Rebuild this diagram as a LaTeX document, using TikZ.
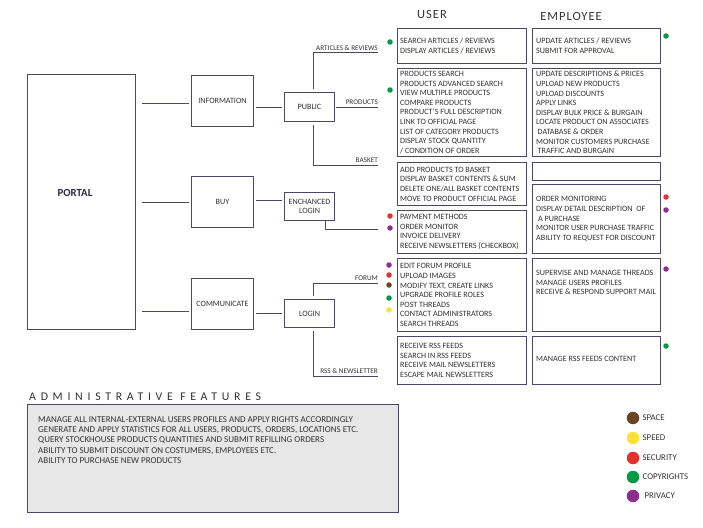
\documentclass[tikz,border=0pt]{standalone}
\usepackage{fontspec}
\setmainfont{Carlito}
\usetikzlibrary{calc}
\definecolor{lc}{HTML}{4A4866}
\definecolor{tc}{HTML}{333333}
\definecolor{pc}{HTML}{2A2944}
\definecolor{admfill}{HTML}{E7E7E7}
\definecolor{cgreen}{HTML}{009A44}
\definecolor{cred}{HTML}{E4312B}
\definecolor{cbrown}{HTML}{6D4522}
\definecolor{cyellow}{HTML}{FFE033}
\definecolor{cpurple}{HTML}{8E2E8E}
\begin{document}
\begin{tikzpicture}[x=1pt,y=-1pt,
  box/.style={draw=lc, line width=1pt, inner sep=0, anchor=north west, text=tc, font=\fontsize{8.1}{9.3}\selectfont, align=center},
  conn/.style={draw=lc, line width=1pt},
  lbl/.style={font=\fontsize{7.2}{8}\selectfont, text=tc, inner sep=0},
  txt/.style={font=\fontsize{8.1}{9.6}\selectfont, text=tc, align=left, inner sep=0, anchor=west},
  hdr/.style={font=\fontsize{12.5}{13}\addfontfeature{LetterSpace=8}\selectfont, text=tc, inner sep=0},
  dot/.style={circle, inner sep=0, minimum size=5.5pt},
  bigdot/.style={circle, inner sep=0, minimum size=12.5pt},
  leg/.style={font=\fontsize{8.8}{9}\selectfont, text=tc, inner sep=0, anchor=west}]
\useasboundingbox[fill=white] (0,0) rectangle (703,527);

% left column boxes
\node[box, minimum width=108, minimum height=255] (portal) at (27,74) {};
\node[font=\fontsize{10.8}{11}\bfseries\selectfont, text=pc, inner sep=0] (portalT) at (75,193) {PORTAL};
\node[box, minimum width=62, minimum height=51] (information) at (191,75) {INFORMATION};
\node[box, minimum width=62, minimum height=51] (buy) at (191,176) {BUY};
\node[box, minimum width=62, minimum height=51] (communicate) at (191,278) {COMMUNICATE};
\node[box, minimum width=50, minimum height=29] (public) at (284,92) {PUBLIC};
\node[box, minimum width=50, minimum height=28] (enchanced) at (284,192) {ENCHANCED\\LOGIN};
\node[box, minimum width=50, minimum height=28] (login) at (284,299) {LOGIN};

% connectors portal -> level 1
\draw[conn] ($(portal.east|-information.west)+(6,2.5)$) -- ($(information.west)+(-2,2.5)$);
\draw[conn] ($(portal.east|-buy.west)+(6,0)$) -- ($(buy.west)+(-2,0)$);
\draw[conn] ($(portal.east|-communicate.west)+(6,7.5)$) -- ($(communicate.west)+(-2,7.5)$);
% level 1 -> level 2
\draw[conn] ($(information.east|-public.west)+(2,0)$) -- ($(public.west)+(-2,0)$);
\draw[conn] ($(buy.east)+(2,-1.5)$) -- ($(enchanced.west|-buy.east)+(-2,-1.5)$);
\draw[conn] ($(communicate.east|-login.west)+(2,0)$) -- ($(login.west)+(-2,0)$);

% branch ends
\coordinate (arEnd) at (378,53);
\coordinate (prEnd) at (378,107);
\coordinate (baEnd) at (378,165);
\coordinate (enEnd) at (378,229);
\coordinate (foEnd) at (378,283);
\coordinate (rsEnd) at (378,376);
\draw[conn] ($(public.north)+(4,-3)$) |- (arEnd);
\draw[conn] ($(public.east)+(1,0)$) -- (prEnd);
\draw[conn] ($(public.south)+(4,3)$) |- (baEnd);
\draw[conn] ($(enchanced.south)+(16,0)$) |- (enEnd);
\draw[conn] ($(login.north)+(4,-3)$) |- (foEnd);
\draw[conn] ($(login.south)+(4,3)$) |- (rsEnd);
\node[lbl, anchor=south east] (arL) at ($(arEnd)+(0,-2)$) {ARTICLES \& REVIEWS};
\node[lbl, anchor=south east] (prL) at ($(prEnd)+(0,-2)$) {PRODUCTS};
\node[lbl, anchor=south east] (baL) at ($(baEnd)+(0,-2)$) {BASKET};
\node[lbl, anchor=south east] (foL) at ($(foEnd)+(0,-2)$) {FORUM};
\node[lbl, anchor=south east] (rsL) at ($(rsEnd)+(0,-2)$) {RSS \& NEWSLETTER};

% headers
\node[hdr] (userH) at (432,14) {USER};
\node[hdr] (empH) at (571,16) {EMPLOYEE};

% right boxes
\node[box, minimum width=129, minimum height=35] (u1) at (397,28) {};
\node[box, minimum width=128, minimum height=35] (e1) at (532,28) {};
\node[box, minimum width=129, minimum height=88] (u2) at (397,68) {};
\node[box, minimum width=128, minimum height=88] (e2) at (532,68) {};
\node[box, minimum width=129, minimum height=43] (u3) at (397,162) {};
\node[box, minimum width=128, minimum height=18] (e3) at (532,162) {};
\node[box, minimum width=129, minimum height=43] (u4) at (397,210) {};
\node[box, minimum width=128, minimum height=69] (e4) at (532,184) {};
\node[box, minimum width=129, minimum height=73] (u5) at (397,258) {};
\node[box, minimum width=128, minimum height=73] (e5) at (532,258) {};
\node[box, minimum width=129, minimum height=48] (u6) at (397,336) {};
\node[box, minimum width=128, minimum height=48] (e6) at (532,336) {};

\node[txt] (u1t) at ($(u1.west)+(3,0)$) {SEARCH ARTICLES / REVIEWS\\DISPLAY ARTICLES / REVIEWS};
\node[txt] (e1t) at ($(e1.west)+(4,0)$) {UPDATE ARTICLES / REVIEWS\\SUBMIT FOR APPROVAL};
\node[txt] (u2t) at ($(u2.west)+(3,0)$) {PRODUCTS SEARCH\\PRODUCTS ADVANCED SEARCH\\VIEW MULTIPLE PRODUCTS\\COMPARE PRODUCTS\\PRODUCT'S FULL DESCRIPTION\\LINK TO OFFICIAL PAGE\\LIST OF CATEGORY PRODUCTS\\DISPLAY STOCK QUANTITY\\/ CONDITION OF ORDER};
\node[txt] (e2t) at ($(e2.west)+(4,0)$) {UPDATE DESCRIPTIONS \& PRICES\\UPLOAD NEW PRODUCTS\\UPLOAD DISCOUNTS\\APPLY LINKS\\DISPLAY BULK PRICE \& BURGAIN\\LOCATE PRODUCT ON ASSOCIATES\\\hspace*{1.5pt}DATABASE \& ORDER\\MONITOR CUSTOMERS PURCHASE\\\hspace*{1.5pt}TRAFFIC AND BURGAIN};
\node[txt] (u3t) at ($(u3.west)+(3,0)$) {ADD PRODUCTS TO BASKET\\DISPLAY BASKET CONTENTS \& SUM\\DELETE ONE/ALL BASKET CONTENTS\\MOVE TO PRODUCT OFFICIAL PAGE};
\node[txt] (u4t) at ($(u4.west)+(3,0)$) {PAYMENT METHODS\\ORDER MONITOR\\INVOICE DELIVERY\\RECEIVE NEWSLETTERS (CHECKBOX)};
\node[txt] (e4t) at ($(e4.west)+(4,0)$) {ORDER MONITORING\\DISPLAY DETAIL DESCRIPTION \ OF\\\hspace*{2pt}A PURCHASE\\MONITOR USER PURCHASE TRAFFIC\\ABILITY TO REQUEST FOR DISCOUNT};
\node[txt] (u5t) at ($(u5.west)+(3,0)$) {EDIT FORUM PROFILE\\UPLOAD IMAGES\\MODIFY TEXT, CREATE LINKS\\UPGRADE PROFILE ROLES\\POST THREADS\\CONTACT ADMINISTRATORS\\SEARCH THREADS};
\node[txt, anchor=north west] (e5t) at ($(e5.north west)+(4,12)$) {SUPERVISE AND MANAGE THREADS\\MANAGE USERS PROFILES\\RECEIVE \& RESPOND SUPPORT MAIL};
\node[txt] (u6t) at ($(u6.west)+(3,0)$) {RECEIVE RSS FEEDS\\SEARCH IN RSS FEEDS\\RECEIVE MAIL NEWSLETTERS\\ESCAPE MAIL NEWSLETTERS};
\node[txt] (e6t) at ($(e6.west)+(4,-2)$) {MANAGE RSS FEEDS CONTENT};

% small dots
\node[dot, fill=cgreen] (d1) at (390,42) {};
\node[dot, fill=cgreen] (d2) at (390,90) {};
\node[dot, fill=cred] (d3) at (390,216) {};
\node[dot, fill=cpurple] (d4) at (390,228) {};
\node[dot, fill=cpurple] (d5) at (389,265) {};
\node[dot, fill=cred] (d6) at (389,275) {};
\node[dot, fill=cbrown] (d7) at (389,285) {};
\node[dot, fill=cgreen] (d8) at (389,298) {};
\node[dot, fill=cyellow] (d9) at (389,310) {};
\node[dot, fill=cgreen] (r1) at (666,36) {};
\node[dot, fill=cred] (r2) at (666,197) {};
\node[dot, fill=cpurple] (r3) at (666,210) {};
\node[dot, fill=cpurple] (r4) at (666,269) {};
\node[dot, fill=cgreen] (r5) at (666,346) {};

% administrative features
\node[font=\fontsize{11.8}{13}\addfontfeature{LetterSpace=40}\selectfont, text=tc, inner sep=0, anchor=west] (admH) at (29,397) {ADMINISTRATIVE FEATURES};
\node[box, fill=admfill, minimum width=371, minimum height=108] (adm) at (27,404) {};
\node[txt, anchor=north west, font=\fontsize{9}{10.4}\selectfont] (admT) at ($(adm.north west)+(11,12)$) {MANAGE ALL INTERNAL-EXTERNAL USERS PROFILES AND APPLY RIGHTS ACCORDINGLY\\GENERATE AND APPLY STATISTICS FOR ALL USERS, PRODUCTS, ORDERS, LOCATIONS ETC.\\QUERY STOCKHOUSE PRODUCTS QUANTITIES AND SUBMIT REFILLING ORDERS\\ABILITY TO SUBMIT DISCOUNT ON COSTUMERS, EMPLOYEES ETC.\\ABILITY TO PURCHASE NEW PRODUCTS};

% legend
\node[bigdot, fill=cbrown] (lg1) at (633,418) {};
\node[bigdot, fill=cyellow] (lg2) at (633,438) {};
\node[bigdot, fill=cred] (lg3) at (633,458) {};
\node[bigdot, fill=cgreen] (lg4) at (633,477) {};
\node[bigdot, fill=cpurple] (lg5) at (633,496) {};
\node[leg] (lg1t) at ($(lg1.east)+(3,0)$) {SPACE};
\node[leg] (lg2t) at ($(lg2.east)+(3,0)$) {SPEED};
\node[leg] (lg3t) at ($(lg3.east)+(3,0)$) {SECURITY};
\node[leg] (lg4t) at ($(lg4.east)+(3,0)$) {COPYRIGHTS};
\node[leg] (lg5t) at ($(lg5.east)+(5,0)$) {PRIVACY};
\end{tikzpicture}
\end{document}
